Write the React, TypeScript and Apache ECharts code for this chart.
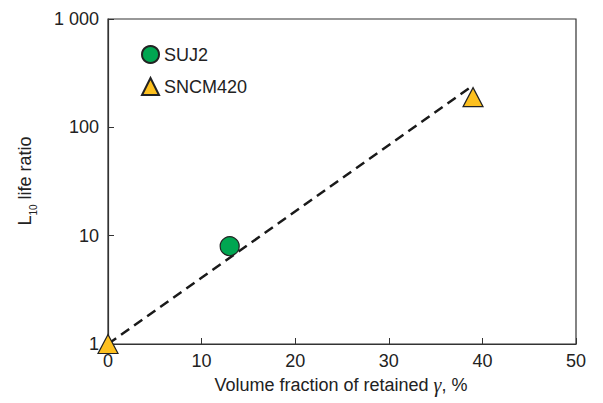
import React, { useEffect, useRef } from "react";
import * as echarts from "echarts";

const xTicks = [0, 10, 20, 30, 40, 50];
const yTicks = [1, 10, 100, 1000];
const suj2X = [13];
const suj2Y = [8];
const sncmX = [0, 39];
const sncmY = [1, 190];
const trendX = [0, 38.6];
const trendY = [1, 230];

const FONT = "'Liberation Sans', Arial, sans-serif";
const TXT = "#222";
const FS = 18;

export default function App() {
  const ref = useRef<HTMLDivElement>(null);
  useEffect(() => {
    const chart = echarts.init(ref.current!, null, { renderer: "svg" });
    chart.setOption({
      animation: false,
      backgroundColor: "#fff",
      grid: {
        left: 108,
        top: 19,
        width: 468,
        height: 325,
        show: true,
        borderColor: "#333",
        borderWidth: 1.2,
        containLabel: false,
      },
      legend: {
        data: ["SUJ2", "SNCM420"],
        orient: "vertical",
        left: 141,
        top: 45,
        padding: 0,
        itemWidth: 17,
        itemHeight: 17,
        itemGap: 13,
        textStyle: { fontFamily: FONT, fontSize: FS, color: TXT },
      },
      xAxis: {
        type: "value",
        min: xTicks[0],
        max: xTicks[xTicks.length - 1],
        interval: 10,
        splitLine: { show: false },
        axisLine: { lineStyle: { color: "#333", width: 1.2 } },
        axisTick: { inside: true, length: 6, lineStyle: { color: "#333" } },
        axisLabel: { fontFamily: FONT, fontSize: FS, color: TXT, margin: 8 },
      },
      yAxis: {
        type: "log",
        logBase: 10,
        min: yTicks[0],
        max: yTicks[yTicks.length - 1],
        splitLine: { show: false },
        axisLine: { lineStyle: { color: "#333", width: 1.2 } },
        axisTick: { inside: true, length: 6, lineStyle: { color: "#333" } },
        minorTick: { show: false },
        axisLabel: {
          fontFamily: FONT,
          fontSize: FS,
          color: TXT,
          margin: 9,
          formatter: (v: number) => (v === 1000 ? "1 000" : String(v)),
        },
      },
      graphic: [
        {
          type: "text",
          x: 341,
          y: 385,
          style: {
            text: "{a|Volume fraction of retained }{g|γ}{a|, %}",
            align: "center",
            verticalAlign: "middle",
            rich: {
              a: { fontFamily: FONT, fontSize: FS, fill: TXT },
              g: { fontFamily: "'Liberation Serif', serif", fontStyle: "italic", fontSize: 20, fill: TXT },
            },
          },
        },
        {
          type: "text",
          x: 24,
          y: 181,
          rotation: Math.PI / 2,
          style: {
            text: "{a|L}{s|10}{a| life ratio}",
            align: "center",
            verticalAlign: "middle",
            rich: {
              a: { fontFamily: FONT, fontSize: FS, fill: TXT, verticalAlign: "bottom", lineHeight: 20 },
              s: { fontFamily: FONT, fontSize: 10, fill: TXT, verticalAlign: "bottom", lineHeight: 20, padding: [0, 0, -4, 0] },
            },
          },
        },
      ],
      series: [
        {
          type: "line",
          name: "trend",
          data: trendX.map((x, i) => [x, trendY[i]]),
          symbol: "none",
          lineStyle: { color: "#1a1a1a", width: 2.5, type: [10, 6] },
          z: 1,
        },
        {
          type: "scatter",
          name: "SUJ2",
          data: suj2X.map((x, i) => [x, suj2Y[i]]),
          symbol: "circle",
          symbolSize: 19,
          clip: false,
          itemStyle: { color: "#00a651", borderColor: "#222", borderWidth: 1.2, opacity: 1 },
          z: 3,
        },
        {
          type: "scatter",
          name: "SNCM420",
          data: sncmX.map((x, i) => [x, sncmY[i]]),
          symbol: "triangle",
          symbolSize: [20, 19],
          clip: false,
          itemStyle: { color: "#fdc01f", borderColor: "#222", borderWidth: 1.2, opacity: 1 },
          z: 3,
        },
      ],
    });
    return () => chart.dispose();
  }, []);
  return <div ref={ref} style={{ width: 603, height: 403, position: "absolute", left: 0, top: 0 }} />;
}
